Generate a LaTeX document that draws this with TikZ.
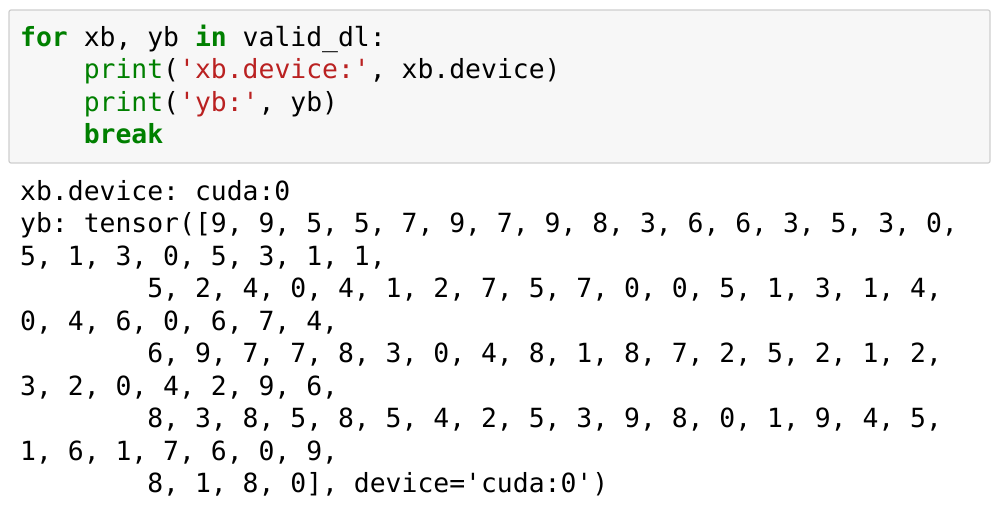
\documentclass[tikz,border=0pt]{standalone}
\usepackage{fontspec}
\setmonofont{DejaVu Sans Mono}
\definecolor{kw}{HTML}{008000}
\definecolor{st}{HTML}{BA2121}
\definecolor{bx}{HTML}{F7F7F7}
\definecolor{bd}{HTML}{CFCFCF}
\begin{document}
\begin{tikzpicture}[x=1pt,y=-1pt,
  code/.style={anchor=base west,inner sep=0pt,font=\fontsize{26.4}{26.4}\selectfont\ttfamily}]
\useasboundingbox (0,0) rectangle (1000,516);
\fill[white] (0,0) rectangle (1000,516);
\draw[bd,fill=bx,line width=1.2pt,rounded corners=2pt] (9,10) rectangle (990,163);
\node[code] (c1) at (20,47) {\textcolor{kw}{\bfseries for} xb, yb \textcolor{kw}{\bfseries in} valid\_dl:};
\node[code] (c2) at (20,79) {\phantom{xxxx}\textcolor{kw}{print}(\textcolor{st}{'xb.device:'}, xb.device)};
\node[code] (c3) at (20,111) {\phantom{xxxx}\textcolor{kw}{print}(\textcolor{st}{'yb:'}, yb)};
\node[code] (c4) at (20,143) {\phantom{xxxx}\textcolor{kw}{\bfseries break}};
\node[code] (o1) at (20,200) {xb.device: cuda:0};
\node[code] (o2) at (20,232.5) {yb: tensor([9, 9, 5, 5, 7, 9, 7, 9, 8, 3, 6, 6, 3, 5, 3, 0,};
\node[code] (o3) at (20,265) {5, 1, 3, 0, 5, 3, 1, 1,};
\node[code] (o4) at (20,297.5) {\phantom{xxxxxxxx}5, 2, 4, 0, 4, 1, 2, 7, 5, 7, 0, 0, 5, 1, 3, 1, 4,};
\node[code] (o5) at (20,330) {0, 4, 6, 0, 6, 7, 4,};
\node[code] (o6) at (20,362.5) {\phantom{xxxxxxxx}6, 9, 7, 7, 8, 3, 0, 4, 8, 1, 8, 7, 2, 5, 2, 1, 2,};
\node[code] (o7) at (20,395) {3, 2, 0, 4, 2, 9, 6,};
\node[code] (o8) at (20,427.5) {\phantom{xxxxxxxx}8, 3, 8, 5, 8, 5, 4, 2, 5, 3, 9, 8, 0, 1, 9, 4, 5,};
\node[code] (o9) at (20,460) {1, 6, 1, 7, 6, 0, 9,};
\node[code] (o10) at (20,492.5) {\phantom{xxxxxxxx}8, 1, 8, 0], device='cuda:0')};
\end{tikzpicture}
\end{document}
